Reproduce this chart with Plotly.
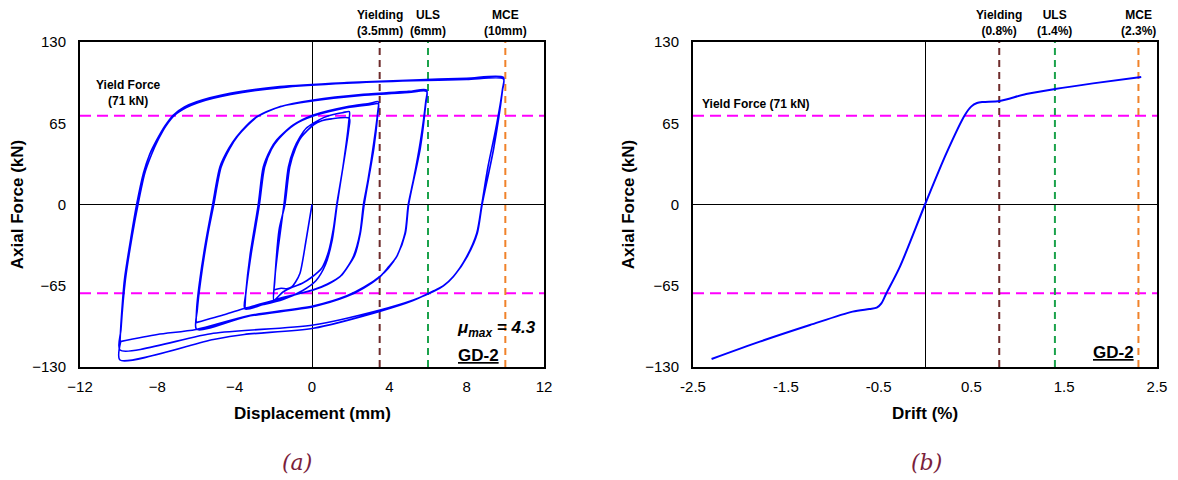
import plotly.graph_objects as go

# ---------------- data ----------------
# Hysteresis path of specimen GD-2, grouped by displacement amplitude
init_disp = [0.0, -0.3, -0.62, -0.85, -1.05, -1.3, -1.6, -1.97]
init_force = [0.0, -28, -55, -62, -66, -67.5, -67, -68.4]

loop2_disp = [-1.97, -1.9, -1.75, -1.45, -1.22, -0.95, -0.62, -0.3, 0.07, 0.6, 1.1, 1.6, 1.93,
              1.9, 1.6, 1.28, 1.1, 0.85, 0.5, 0.0, -0.5, -1.0, -1.5, -1.97,
              -1.93, -1.7, -1.4, -1.15, -0.85, -0.55, 0.1, 0.5, 1.0, 1.93,
              1.9, 1.5, 1.3, 1.05, 0.7, 0.2, -0.5, -1.5, -2.5, -3.47]
loop2_force = [-68.4, -55, -35, 0, 30, 44, 54, 61, 65, 69.5, 72, 73.5, 74.3,
               66, 30, 0, -20, -38, -51, -58, -63, -66, -70, -76.4,
               -62, -20, 0, 30, 45, 54, 64, 67, 68.5, 69,
               60, 20, 0, -28, -48, -61, -69, -76, -80, -83]

loop35_disp = [-3.47, -3.42, -3.2, -2.78, -2.52, -2.15, -1.83, -0.97, 0.07, 1.79, 3.0, 3.43,
               3.4, 3.2, 2.9, 2.66, 2.48, 2.14, 1.75, 1.45, 0.8, 0.07, -1.66, -3.47,
               -3.42, -3.15, -2.72, -2.45, -2.1, -1.75, -0.9, 0.1, 1.8, 3.0, 3.43,
               3.4, 3.2, 2.7, 2.5, 2.2, 1.8, 1.5, 0.8, 0.1, -1.66, -3.47, -4.5, -6.0]
loop35_force = [-83, -70, -40, 0, 30, 44, 51.6, 63.6, 71.6, 78.2, 81, 82.2,
                74, 50, 20, 0, -23, -41.7, -52, -57.7, -64, -68.4, -75, -83.5,
                -71, -40, 0, 30, 44, 52, 64, 71, 77.5, 79.8, 80.5,
                72, 45, 0, -23, -41, -51, -57, -63.5, -68, -75.5, -83, -88, -94.5]

loop6_disp = [-6.0, -5.95, -5.8, -5.5, -5.14, -4.76, -4.3, -3.9, -3.4, -2.86, -1.66, 0.07, 2.66, 5.0, 5.93,
              5.88, 5.6, 5.25, 4.98, 4.81, 4.38, 3.9, 3.52, 2.66, 1.79, 0.07, -3.38, -5.97,
              -5.93, -5.75, -5.4, -5.08, -4.7, -4.25, -3.85, -3.35, -2.8, -1.6, 0.1, 2.7, 5.0, 5.93,
              5.88, 5.6, 5.0, 4.83, 4.4, 3.95, 3.55, 2.7, 1.8, 0.1, -3.3, -6.0, -8.0, -9.93]
loop6_force = [-94.5, -80, -60, -30, 0, 30.2, 45, 54.2, 63, 70.2, 78.2, 83.6, 88.2, 90.5, 91.6,
               82, 50, 20, 0, -23, -41.7, -51, -57.7, -67, -73.7, -81.7, -89.7, -99.8,
               -84, -60, -25, 0, 30, 45, 54.5, 63, 70.5, 78.5, 83, 87.5, 89.6, 90.5,
               80, 45, 0, -23, -41, -51, -57, -66, -73, -81, -89, -100, -104, -109.7]

loop10_disp = [-9.93, -9.88, -9.7, -9.35, -9.07, -8.72, -8.4, -8.03, -7.6, -7.17, -6.6, -5.97, -4.24, -1.66,
               1.79, 5.24, 8.0, 9.9,
               9.85, 9.5, 9.1, 8.78, 8.52, 8.0, 7.31, 6.8, 6.28, 5.24, 3.52, 0.07, -5.1, -9.93,
               -9.88, -9.65, -9.3, -9.0, -8.65, -8.3, -7.95, -7.55, -7.1, -6.5, -5.9, -4.2, -1.6,
               1.8, 5.24, 8.0, 9.9,
               9.85, 9.4, 8.8, 8.55, 8.05, 7.35, 6.85, 6.3, 5.2, 3.5, 0.07, -3.5, -5.1, -9.93, -9.9]
loop10_force = [-109.7, -95, -60, -25, 0, 25, 40, 51.6, 63, 71.6, 78, 82.2, 89, 94.3,
                97.5, 99.6, 101, 101.7,
                92, 60, 30, 0, -23, -41.7, -57.7, -65, -69.7, -76.4, -84.4, -96.4, -103, -116.4,
                -100, -60, -25, 0, 25, 40, 52, 63, 71.5, 77.5, 81.5, 88, 93.5,
                97, 99, 100, 100.5,
                91, 45, 0, -23, -41, -57, -64.5, -69, -77, -85.5, -99, -104, -108, -124.4, -110]

# Backbone: axial force vs drift
drift_pct = [-2.30, -1.78, -1.24, -0.78, -0.60, -0.52, -0.47, -0.42, -0.27, 0.0,
             0.23, 0.43, 0.50, 0.56, 0.625, 0.805, 1.09, 1.40, 1.81, 2.33]
drift_force = [-123.6, -109.7, -96.4, -85.7, -83.6, -82.5, -79.1, -71.6, -49.7, 0.0,
               40.9, 71.6, 78.5, 81.2, 82.0, 82.8, 88.4, 92.4, 96.9, 102.0]

yield_force = 71
disp_limits = [3.5, 6, 10]
drift_limits = [0.8, 1.4, 2.3]
limit_names = ["Yielding", "ULS", "MCE"]
disp_limit_labels = ["(3.5mm)", "(6mm)", "(10mm)"]
drift_limit_labels = ["(0.8%)", "(1.4%)", "(2.3%)"]
limit_colors = ["#6E2B2B", "#1BA24B", "#F0822A"]

disp_ticks = [-12, -8, -4, 0, 4, 8, 12]
drift_ticks = [-2.5, -1.5, -0.5, 0.5, 1.5, 2.5]
force_ticks = [-130, -65, 0, 65, 130]

# ---------------- figure ----------------
# The page body has an 8px margin, so the figure is drawn at (8, 8).
OFF = 8
W, H = 1178 - OFF, 480 - OFF
FONT = "Arial, Liberation Sans, sans-serif"
BLUE = "#0000FF"
MAG = "#FF00FF"


def px_x(p):
    return (p - OFF) / W


def px_y(p):
    return 1 - (p - OFF) / H


fig = go.Figure()

hyst_x = init_disp + loop2_disp + loop35_disp + loop6_disp + loop10_disp
hyst_y = init_force + loop2_force + loop35_force + loop6_force + loop10_force
fig.add_trace(go.Scatter(x=hyst_x, y=hyst_y, mode="lines",
                         line=dict(color=BLUE, width=1.6, shape="spline", smoothing=0.75),
                         xaxis="x", yaxis="y", showlegend=False, hoverinfo="skip"))
fig.add_trace(go.Scatter(x=drift_pct, y=drift_force, mode="lines",
                         line=dict(color=BLUE, width=2, shape="spline", smoothing=0.8),
                         xaxis="x2", yaxis="y2", showlegend=False, hoverinfo="skip"))

axis_common = dict(showline=True, linecolor="black", linewidth=2, mirror=True,
                   showgrid=False, zeroline=True, zerolinecolor="black", zerolinewidth=1,
                   ticks="", automargin=False,
                   tickfont=dict(family=FONT, size=15, color="black"))

title_font = dict(family=FONT, size=17, color="black")
ydom = [px_y(367), px_y(42)]
fig.update_layout(
    width=W, height=H,
    margin=dict(l=0, r=0, t=0, b=0),
    paper_bgcolor="white", plot_bgcolor="white",
    xaxis=dict(domain=[px_x(80), px_x(544)], range=[-12, 12], tickvals=disp_ticks,
               anchor="y", ticklabelstandoff=5, **axis_common),
    yaxis=dict(domain=ydom, range=[-130, 130], tickvals=force_ticks, anchor="x",
               ticklabelstandoff=9,
               title=dict(text="<b>Axial Force (kN)</b>", font=title_font, standoff=6),
               **axis_common),
    xaxis2=dict(domain=[px_x(693), px_x(1157)], range=[-2.5, 2.5], tickvals=drift_ticks,
                ticktext=[str(v) for v in drift_ticks], anchor="y2", ticklabelstandoff=5,
                **axis_common),
    yaxis2=dict(domain=ydom, range=[-130, 130], tickvals=force_ticks, anchor="x2",
                ticklabelstandoff=9,
                title=dict(text="<b>Axial Force (kN)</b>", font=title_font, standoff=6),
                **axis_common),
)

shapes = []
for xr, yr, xmin, xmax in [("x", "y", -12, 12), ("x2", "y2", -2.5, 2.5)]:
    for f in [yield_force, -yield_force]:
        shapes.append(dict(type="line", xref=xr, yref=yr, x0=xmin, x1=xmax, y0=f, y1=f,
                           line=dict(color=MAG, width=2, dash="11px,6px"), layer="below"))
for xr, yr, vals in [("x", "y", disp_limits), ("x2", "y2", drift_limits)]:
    for v, c in zip(vals, limit_colors):
        shapes.append(dict(type="line", xref=xr, yref=yr, x0=v, x1=v, y0=-130, y1=130,
                           line=dict(color=c, width=2, dash="7px,5px"), layer="below"))
fig.update_layout(shapes=shapes)

ann = []
# x-axis titles
ann.append(dict(x=px_x(312), xref="paper", xanchor="center", y=px_y(413), yref="paper",
                yanchor="middle", text="<b>Displacement (mm)</b>", showarrow=False, font=title_font))
ann.append(dict(x=px_x(925), xref="paper", xanchor="center", y=px_y(413), yref="paper",
                yanchor="middle", text="<b>Drift (%)</b>", showarrow=False, font=title_font))
for vals, labs, xr in [(disp_limits, disp_limit_labels, "x"), (drift_limits, drift_limit_labels, "x2")]:
    for v, n, l in zip(vals, limit_names, labs):
        ann.append(dict(x=v, xref=xr, xanchor="center", y=px_y(23), yref="paper", yanchor="middle",
                        text=f"<b>{n}<br>{l}</b>", showarrow=False,
                        font=dict(family=FONT, size=12, color="black"), align="center"))
ann.append(dict(x=-9.5, xref="x", xanchor="center", y=px_y(93), yref="paper", yanchor="middle",
                text="<b>Yield Force<br>(71 kN)</b>", showarrow=False,
                font=dict(family=FONT, size=12, color="black")))
ann.append(dict(x=-2.42, xref="x2", xanchor="left", y=px_y(104), yref="paper", yanchor="middle",
                text="<b>Yield Force (71 kN)</b>", showarrow=False,
                font=dict(family=FONT, size=12, color="black")))
ann.append(dict(x=px_x(496), xref="paper", xanchor="center", y=px_y(329), yref="paper",
                yanchor="middle", text="<b><i>μ<sub>max</sub> = 4.3</i></b>", showarrow=False,
                font=dict(family=FONT, size=17, color="black")))
ann.append(dict(x=px_x(478), xref="paper", xanchor="center", y=px_y(355), yref="paper",
                yanchor="middle", text="<b><u>GD-2</u></b>", showarrow=False,
                font=dict(family=FONT, size=17, color="black")))
ann.append(dict(x=px_x(1113), xref="paper", xanchor="center", y=px_y(352), yref="paper",
                yanchor="middle", text="<b><u>GD-2</u></b>", showarrow=False,
                font=dict(family=FONT, size=17, color="black")))
ann.append(dict(x=px_x(297), xref="paper", xanchor="center", y=px_y(462), yref="paper",
                yanchor="middle", text="<i>(a)</i>", showarrow=False,
                font=dict(family="DejaVu Serif, Liberation Serif, serif", size=22, color="#7A1E3C")))
ann.append(dict(x=px_x(926), xref="paper", xanchor="center", y=px_y(462), yref="paper",
                yanchor="middle", text="<i>(b)</i>", showarrow=False,
                font=dict(family="DejaVu Serif, Liberation Serif, serif", size=22, color="#7A1E3C")))
fig.update_layout(annotations=ann)

fig.write_html("out.html")
